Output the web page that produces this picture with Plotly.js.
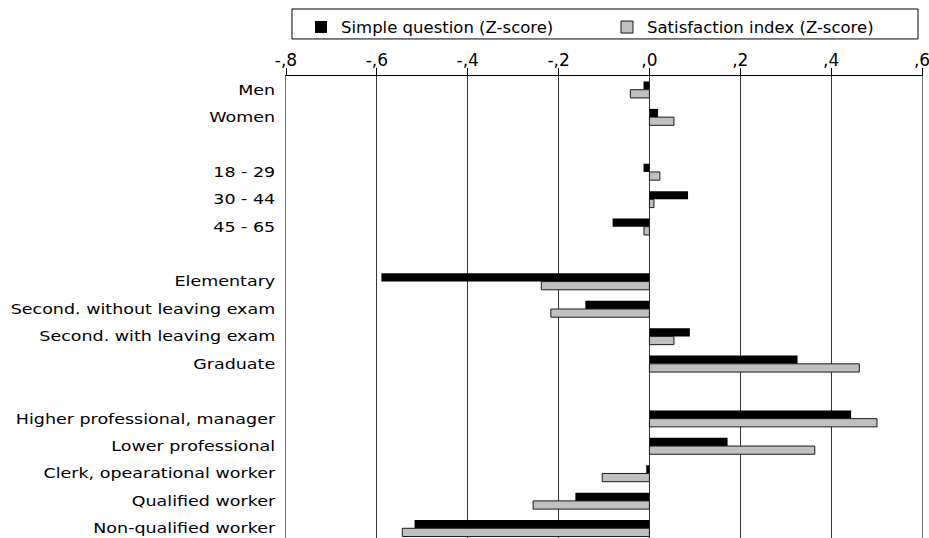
<!DOCTYPE html>
<html>
<head>
<meta charset="utf-8">
<script src="https://cdn.plot.ly/plotly-3.0.1.min.js"></script>
<style>
  html, body { margin: 0; padding: 0; background: #fff; overflow: hidden; }
  #chart { width: 929px; height: 542px; }
  .yaxislayer-above .ytick {
    transform-box: fill-box;
    transform-origin: right center;
    transform: scaleX(1.25);
  }
</style>
</head>
<body>
<div id="chart"></div>
<script>
// Rows of the chart (zero-width-space entries are empty spacer rows)
const categories = [
  "Men", "Women", "\u200b",
  "18 - 29", "30 - 44", "45 - 65", "\u200b\u200b",
  "Elementary", "Second. without leaving exam", "Second. with leaving exam", "Graduate", "\u200b\u200b\u200b",
  "Higher professional, manager", "Lower professional", "Clerk, opearational worker", "Qualified worker", "Non-qualified worker"
];
const simpleQuestion = [-0.013, 0.019, null, -0.013, 0.085, -0.081, null, -0.590, -0.141, 0.089, 0.326, null, 0.444, 0.172, -0.007, -0.163, -0.517];
const satisfactionIndex = [-0.042, 0.054, null, 0.023, 0.010, -0.012, null, -0.238, -0.217, 0.054, 0.462, null, 0.501, 0.364, -0.104, -0.256, -0.544];
const seriesNames = ["Simple question (Z-score)", "Satisfaction index (Z-score)"];
const xTickVals = [-0.8, -0.6, -0.4, -0.2, 0, 0.2, 0.4, 0.6];
const xTickText = ["-,8", "-,6", "-,4", "-,2", ",0", ",2", ",4", ",6"];
const rowLabels = categories.filter(c => c.replace(/\u200b/g, "") !== "");

const FONT = "DejaVu Sans, Verdana, sans-serif";

const traces = [
  {
    type: "bar", orientation: "h", name: seriesNames[0], legend: "legend",
    y: categories, x: simpleQuestion,
    marker: { color: "#000000", line: { color: "#000000", width: 0 } },
    hoverinfo: "skip"
  },
  {
    type: "bar", orientation: "h", name: seriesNames[1], legend: "legend2",
    y: categories, x: satisfactionIndex,
    marker: { color: "#c0c0c0", line: { color: "#1a1a1a", width: 1 } },
    hoverinfo: "skip"
  }
];

const legendCommon = {
  orientation: "h", xanchor: "left", y: 1.142, yanchor: "top",
  borderwidth: 0, bgcolor: "rgba(0,0,0,0)",
  font: { family: FONT, size: 16.5, color: "#000" }
};

const layout = {
  width: 929, height: 542,
  margin: { l: 286, r: 7, t: 76, b: 0, pad: 0, autoexpand: false },
  paper_bgcolor: "#ffffff", plot_bgcolor: "#ffffff",
  font: { family: FONT, size: 14, color: "#000" },
  barmode: "group", bargap: 0.4, bargroupgap: 0,
  showlegend: true,
  legend: Object.assign({}, legendCommon, { x: 0.0236 }),
  legend2: Object.assign({}, legendCommon, { x: 0.5047 }),
  shapes: [{
    type: "rect", xref: "paper", yref: "paper",
    x0: 0.0094, x1: 0.9937, y0: 1.0795, y1: 1.1438,
    line: { color: "#000", width: 1 }, fillcolor: "rgba(0,0,0,0)", layer: "below"
  }],
  xaxis: {
    side: "top", range: [-0.8, 0.6], fixedrange: true,
    tickmode: "array", tickvals: xTickVals, ticktext: xTickText,
    ticks: "outside", ticklen: 7, tickcolor: "#000", tickwidth: 1,
    ticklabelstandoff: -5, ticklabeloverflow: "allow",
    showline: true, linecolor: "#000", linewidth: 1,
    showgrid: true, gridcolor: "#333", gridwidth: 1,
    zeroline: false,
    tickfont: { family: FONT, size: 17, color: "#000" }
  },
  yaxis: {
    type: "category", categoryorder: "array", categoryarray: categories,
    range: [16.5, -0.5], fixedrange: true,
    tickmode: "array", tickvals: rowLabels, ticktext: rowLabels,
    ticks: "", showgrid: false, zeroline: false,
    showline: true, mirror: true, linecolor: "#777", linewidth: 1,
    ticklabelstandoff: 7,
    tickfont: { family: FONT, size: 14, color: "#000" }
  },
  yaxis2: {
    overlaying: "y", anchor: "free", position: 0.8 / 1.4, side: "left",
    range: [16.5, -0.5], fixedrange: true,
    tickmode: "linear", tick0: -0.5, dtick: 1,
    ticks: "outside", ticklen: 7, tickcolor: "#333", tickwidth: 1,
    showticklabels: false, showgrid: false, zeroline: false,
    showline: true, linecolor: "#000", linewidth: 1
  }
};

Plotly.newPlot("chart", traces, layout, { displayModeBar: false, staticPlot: true });
</script>
</body>
</html>
